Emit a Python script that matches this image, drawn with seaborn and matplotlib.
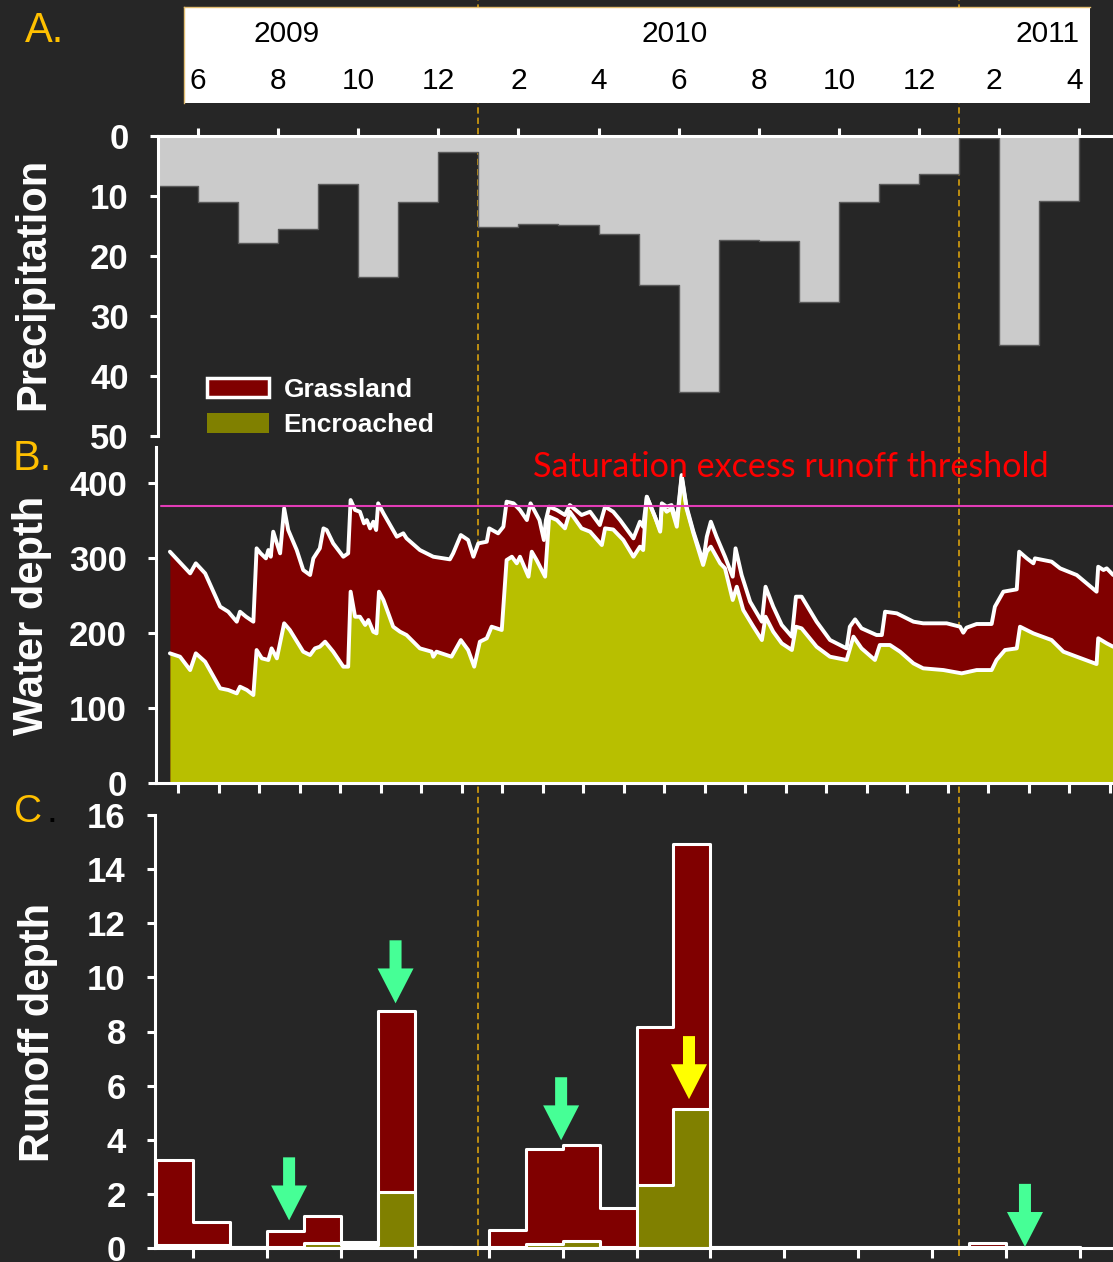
import numpy as np
import pandas as pd
import matplotlib
matplotlib.use("Agg")
import matplotlib.pyplot as plt
import matplotlib.transforms as mtransforms
from matplotlib.lines import Line2D
from matplotlib.patches import Patch
import seaborn as sns

# ---------------- data ----------------
# Panel A: monthly precipitation (mm); month index 0 = June 2009
precip_month = list(range(-1, 22))
precip_mm = [8.3, 11.05, 17.9, 15.5, 8.0, 23.5, 11.05, 2.7, 15.2, 14.6, 14.8, 16.3,
             24.9, 42.6, 17.3, 17.55, 27.7, 11.0, 8.05, 6.3, 0.4, 34.9, 10.8]

month_tick_labels = ["6", "8", "10", "12", "2", "4", "6", "8", "10", "12", "2", "4"]
month_tick_pos = list(range(0, 24, 2))
year_labels = ["2009", "2010", "2011"]
year_pos = [2.2, 11.9, 21.2]
year_breaks = [7, 19]  # January 2010, January 2011

# Panel B: simulated soil water depth (mm), time in months from June 2009
grass_t = [-0.20, 0.30, 0.44, 0.67, 1.04, 1.24, 1.45, 1.53, 1.68, 1.86, 1.94, 2.04, 2.17,
           2.23, 2.29, 2.35, 2.44, 2.52, 2.62, 2.72, 2.93, 3.09, 3.26, 3.34, 3.50, 3.59,
           3.67, 3.83, 4.08, 4.20, 4.26, 4.37, 4.49, 4.59, 4.66, 4.74, 4.82, 4.89, 4.94,
           5.07, 5.40, 5.56, 5.64, 5.97, 6.30, 6.71, 6.79, 6.98, 7.16, 7.29, 7.41, 7.62,
           7.68, 7.90, 8.03, 8.11, 8.28, 8.44, 8.61, 8.70, 8.81, 8.92, 9.03, 9.08, 9.16,
           9.35, 9.55, 9.67, 9.96, 10.17, 10.41, 10.54, 10.74, 10.91, 11.24, 11.40, 11.48,
           11.57, 11.77, 11.90, 11.94, 12.06, 12.18, 12.31, 12.43, 12.55, 12.72, 12.96,
           13.05, 13.15, 13.29, 13.50, 13.69, 13.76, 13.91, 14.12, 14.41, 14.50, 14.69,
           14.90, 15.15, 15.25, 15.39, 15.76, 16.09, 16.50, 16.58, 16.71, 16.87, 17.24,
           17.37, 17.45, 17.74, 18.15, 18.39, 18.97, 19.30, 19.38, 19.46, 19.71, 20.08,
           20.16, 20.37, 20.70, 20.76, 20.95, 21.11, 21.15, 21.56, 21.77, 22.18, 22.67,
           22.71, 22.84, 22.92, 23.08]
grass_depth = [308.4, 279.5, 292.9, 279.5, 235.1, 228.4, 215.1, 228.4, 221.7, 215.1, 312.9,
               306.2, 299.5, 310.6, 301.7, 335.1, 319.5, 306.2, 366.2, 337.3, 310.6, 284.0,
               277.3, 299.5, 312.9, 339.5, 337.3, 319.5, 301.7, 306.2, 377.3, 364.0, 361.7,
               346.2, 350.6, 339.5, 348.4, 337.3, 372.9, 359.5, 328.4, 332.9, 326.2, 310.6,
               301.7, 298.2, 306.2, 330.6, 324.0, 301.7, 319.5, 321.7, 339.5, 332.9, 341.7,
               375.1, 372.9, 364.0, 350.6, 372.9, 361.7, 350.6, 324.0, 350.6, 368.4, 364.0,
               357.3, 370.6, 357.3, 361.7, 344.0, 368.4, 361.7, 350.6, 326.2, 348.4, 341.7,
               381.7, 355.1, 337.3, 372.9, 368.4, 370.6, 348.4, 410.6, 368.4, 335.1, 295.1,
               328.4, 348.4, 328.4, 301.7, 275.1, 312.9, 277.3, 241.7, 215.1, 261.7, 235.1,
               210.7, 195.1, 248.4, 248.4, 215.1, 190.7, 179.5, 208.4, 218.2, 206.2, 197.3,
               197.3, 228.4, 226.2, 215.1, 212.9, 212.9, 208.4, 200.4, 207.1, 212.0, 212.0,
               235.1, 255.1, 258.2, 308.4, 299.5, 292.9, 299.5, 295.1, 286.2, 277.3, 255.1,
               288.4, 284.0, 286.2, 277.3]

encr_t = [-0.20, 0.05, 0.30, 0.44, 0.67, 1.04, 1.24, 1.45, 1.53, 1.70, 1.86, 1.94, 2.07,
          2.23, 2.31, 2.44, 2.62, 2.76, 3.09, 3.26, 3.38, 3.50, 3.63, 3.83, 4.08, 4.20,
          4.26, 4.37, 4.49, 4.62, 4.70, 4.82, 4.90, 4.96, 5.07, 5.31, 5.48, 5.64, 5.97,
          6.26, 6.30, 6.38, 6.75, 6.98, 7.16, 7.31, 7.45, 7.62, 7.74, 7.99, 8.11, 8.24,
          8.36, 8.44, 8.65, 8.73, 8.85, 9.06, 9.16, 9.35, 9.55, 9.67, 9.96, 10.17, 10.46,
          10.54, 10.74, 10.99, 11.24, 11.40, 11.48, 11.57, 11.77, 11.90, 11.94, 12.06,
          12.18, 12.31, 12.43, 12.55, 12.72, 12.96, 13.05, 13.15, 13.38, 13.50, 13.69,
          13.79, 13.95, 14.20, 14.41, 14.50, 14.69, 14.90, 15.15, 15.25, 15.39, 15.76,
          16.09, 16.50, 16.67, 16.87, 17.20, 17.32, 17.57, 17.82, 18.15, 18.39, 18.89,
          19.34, 19.71, 20.08, 20.20, 20.41, 20.70, 20.78, 21.11, 21.56, 21.85, 22.18,
          22.67, 22.71, 22.92, 23.08]
encr_depth = [172.9, 168.4, 150.6, 172.9, 161.7, 126.2, 124.0, 119.5, 128.4, 124.0, 117.3,
              177.3, 166.2, 164.0, 179.5, 166.2, 212.9, 204.0, 175.1, 170.6, 179.5, 181.7,
              188.4, 175.1, 155.1, 155.1, 255.1, 221.7, 221.7, 210.7, 217.3, 201.7, 199.5,
              255.1, 244.0, 208.4, 201.7, 197.3, 179.5, 175.1, 168.4, 175.1, 168.4, 190.6,
              177.3, 155.1, 188.4, 192.9, 208.4, 204.0, 297.3, 301.7, 292.9, 301.7, 275.1,
              308.4, 297.3, 275.1, 355.1, 350.6, 339.5, 361.7, 339.5, 335.1, 317.3, 339.5,
              338.0, 324.0, 301.7, 315.1, 310.6, 381.7, 355.1, 335.1, 370.6, 361.7, 366.0,
              341.7, 408.4, 366.0, 332.9, 290.7, 308.4, 315.1, 292.9, 286.2, 244.0, 261.7,
              230.6, 208.4, 190.6, 221.7, 201.7, 186.2, 177.3, 208.4, 206.2, 181.7, 168.4,
              164.0, 195.1, 179.5, 164.0, 184.0, 184.0, 175.1, 159.5, 152.9, 150.6, 146.2,
              150.6, 150.6, 164.0, 177.3, 179.5, 208.4, 199.5, 190.6, 175.1, 168.4, 158.6,
              193.0, 186.2, 181.7]
runoff_threshold = 370
water_months = list(range(0, 24))

# Panel C: monthly runoff depth (mm); month index 0 = June 2009
runoff_month = list(range(-1, 24))
grass_runoff = [3.25, 0.95, 0.05, 0.62, 1.17, 0.22, 8.77, 0.05, 0.02, 0.65, 3.64, 3.82,
                1.49, 8.15, 14.93, 0.05, 0.05, 0.02, 0.02, 0.02, 0.02, 0.02, 0.2, 0.05, 0.05]
encr_runoff = [0.1, 0.1, 0.02, 0.05, 0.17, 0.1, 2.07, 0.02, 0.0, 0.05, 0.13, 0.26, 0.03,
               2.32, 5.15, 0.05, 0.02, 0.02, 0.02, 0.02, 0.02, 0.02, 0.02, 0.02, 0.02]

# highlighted runoff events: month, arrow tip height, colour
event_month = [2.6, 5.48, 9.96, 13.42, 22.51]
event_tip = [1.02, 9.04, 3.98, 5.5, 0.04]
event_color = ["#46ff96", "#46ff96", "#46ff96", "#ffff00", "#46ff96"]

# ---------------- style ----------------
BG = "#262626"
GRASS = "#800000"
ENCR_B = "#b8bf00"
ENCR_C = "#808000"
ORANGE = "#ffc000"
DASH = "#c9960f"

sns.set_theme(style="dark", rc={"axes.facecolor": "none", "figure.facecolor": BG,
                                "savefig.facecolor": BG})
plt.rcParams["font.family"] = ["Liberation Sans", "DejaVu Sans"]

W, H = 1113, 1262


def frame(l, t, r, b):
    return [l / W, 1 - b / H, (r - l) / W, (b - t) / H]


fig = plt.figure(figsize=(W / 100, H / 100), dpi=100)
axA = fig.add_axes(frame(158, 136, 1114, 436))
axB = fig.add_axes(frame(156, 447, 1114, 783))
axC = fig.add_axes(frame(155, 815, 1114, 1248))
axT = fig.add_axes(frame(184, 7, 1090, 103))

TICK_FS = 25
SPINE_W = 2.2


def style_axis(ax, spines):
    ax.set_facecolor("none")
    ax.grid(False)
    for name, sp in ax.spines.items():
        sp.set_visible(name in spines)
        sp.set_color("white")
        sp.set_linewidth(SPINE_W)
    ax.tick_params(colors="white", width=SPINE_W, length=6, pad=15,
                   left=True, bottom=("bottom" in spines), top=("top" in spines))
    ax.set_xlabel("")
    ax.set_ylabel("")


# ---- Panel A: precipitation (inverted) ----
precip_df = pd.DataFrame({"mid": np.array(precip_month, dtype=float) + 0.5,
                          "mm": precip_mm})
sns.histplot(data=precip_df, x="mid", weights="mm", bins=list(range(-1, 23)),
             element="step", fill=True, color="#cbcbcb", edgecolor="#5a5a5a",
             linewidth=1.0, alpha=1, ax=axA)
axA.set_xlim(-1, (1114 - 198) / 40.05)
axA.set_ylim(50, 0)
style_axis(axA, ["top", "left"])
axA.xaxis.set_ticks_position("top")
axA.set_xticks(month_tick_pos, [""] * len(month_tick_pos))
axA.set_yticks([0, 10, 20, 30, 40, 50], ["0", "10", "20", "30", "40", "50"],
               fontsize=TICK_FS, fontweight="bold", color="white")

legend_handles = [Patch(facecolor=GRASS, edgecolor="white", linewidth=2.5),
                  Patch(facecolor=ENCR_C, edgecolor="none")]
leg = axA.legend(legend_handles, ["Grassland", "Encroached"], loc="upper left",
                 bbox_to_anchor=(207 / W, 1 - 378 / H), bbox_transform=fig.transFigure,
                 frameon=False, prop={"size": 19, "weight": "bold"}, labelcolor="white",
                 handlelength=2.35, handleheight=0.75, handletextpad=0.55,
                 labelspacing=0.42, borderpad=0, borderaxespad=0)

# ---- month / year strip ----
axT.set_facecolor("white")
axT.set_xticks([])
axT.set_yticks([])
axT.grid(False)
for name, sp in axT.spines.items():
    sp.set_visible(name in ("top", "left"))
    sp.set_color("#e2bd72")
    sp.set_linewidth(1.0)
strip_tr = mtransforms.blended_transform_factory(axA.transData, axT.transAxes)
for pos, lab in zip(month_tick_pos, month_tick_labels):
    axT.text(pos - (0.12 if pos >= 20 else 0.0), 0.23, lab, transform=strip_tr,
             ha="center", va="center", fontsize=21.5, color="black", clip_on=False)
for pos, lab in zip(year_pos, year_labels):
    axT.text(pos, 0.72, lab, transform=strip_tr, ha="center", va="center",
             fontsize=21.5, color="black", clip_on=False)

# ---- Panel B: water depth ----
axB.fill_between(grass_t, 0, grass_depth, color=GRASS, lw=0, zorder=1)
axB.fill_between(encr_t, 0, encr_depth, color=ENCR_B, lw=0, zorder=2)
sns.lineplot(x=grass_t, y=grass_depth, color="white", lw=2.8, sort=False,
             estimator=None, ax=axB, zorder=3)
sns.lineplot(x=encr_t, y=encr_depth, color="white", lw=2.8, sort=False,
             estimator=None, ax=axB, zorder=3)
axB.axhline(runoff_threshold, xmin=0.005, color="#e23cb6", lw=1.5, zorder=4)
axB.text(15.13, 421, "Saturation excess runoff threshold", color="#ff0000",
         fontsize=24.6, family=["Lato", "DejaVu Sans"], ha="center", va="center")
axB.set_xlim((156 - 178) / 40.52, (1114 - 178) / 40.52)
axB.set_ylim(0, 448)
style_axis(axB, ["bottom", "left"])
axB.set_xticks(water_months, [""] * len(water_months))
axB.tick_params(axis="x", length=7.5)
axB.set_yticks([0, 100, 200, 300, 400], ["0", "100", "200", "300", "400"],
               fontsize=TICK_FS, fontweight="bold", color="white")

# ---- Panel C: runoff depth ----
runoff_df = pd.DataFrame({"mid": np.array(runoff_month, dtype=float) + 0.5,
                          "grass": grass_runoff, "encr": encr_runoff})
for col, colour in (("grass", GRASS), ("encr", ENCR_C)):
    sns.histplot(data=runoff_df, x="mid", weights=col, bins=list(range(-1, 25)),
                 element="step", fill=True, color=colour, edgecolor="white",
                 linewidth=2.2, alpha=1, ax=axC)
arrow_len = 2.33
for m, tip, col in zip(event_month, event_tip, event_color):
    axC.arrow(m, tip + arrow_len, 0, -arrow_len, width=0.325, head_width=0.974,
              head_length=1.29, length_includes_head=True, fc=col, ec="none", zorder=5)
axC.set_xlim((155 - 193) / 36.96, (1114 - 193) / 36.96)
axC.set_ylim(0, 16)
style_axis(axC, ["bottom", "left"])
axC.set_xticks(list(range(0, 25, 2)), [""] * 13)
axC.tick_params(axis="x", length=7.5)
axC.set_yticks(list(range(0, 17, 2)), [str(v) for v in range(0, 17, 2)],
               fontsize=TICK_FS, fontweight="bold", color="white")

# ---- year boundaries across all panels ----
vline_tr = mtransforms.blended_transform_factory(axA.transData, fig.transFigure)
for xb in year_breaks:
    fig.add_artist(Line2D([xb, xb], [0.005, 1.0], transform=vline_tr, color=DASH,
                          lw=1.3, linestyle=(0, (3.5, 2.2)), zorder=-1))

# ---- axis titles and panel letters ----
fig.text(33 / W, 1 - 284 / H, "Precipitation", rotation=90, ha="center", va="center",
         fontsize=30, fontweight="bold", color="white")
fig.text(32 / W, 1 - 615 / H, "Water depth", rotation=90, ha="center", va="center",
         fontsize=30, fontweight="bold", color="white")
fig.text(38 / W, 1 - 1032 / H, "Runoff depth", rotation=90, ha="center", va="center",
         fontsize=30, fontweight="bold", color="white")
fig.text(45 / W, 1 - 31 / H, "A.", ha="center", va="center", fontsize=30, color=ORANGE)
fig.text(32 / W, 1 - 459 / H, "B.", ha="center", va="center", fontsize=30, color=ORANGE)
fig.text(14 / W, 1 - 812 / H, "C", ha="left", va="center", fontsize=28, color=ORANGE)
fig.text(46 / W, 1 - 812 / H, ".", ha="left", va="center", fontsize=28, color="black")

fig.savefig("out.png", dpi=100, facecolor=BG)
